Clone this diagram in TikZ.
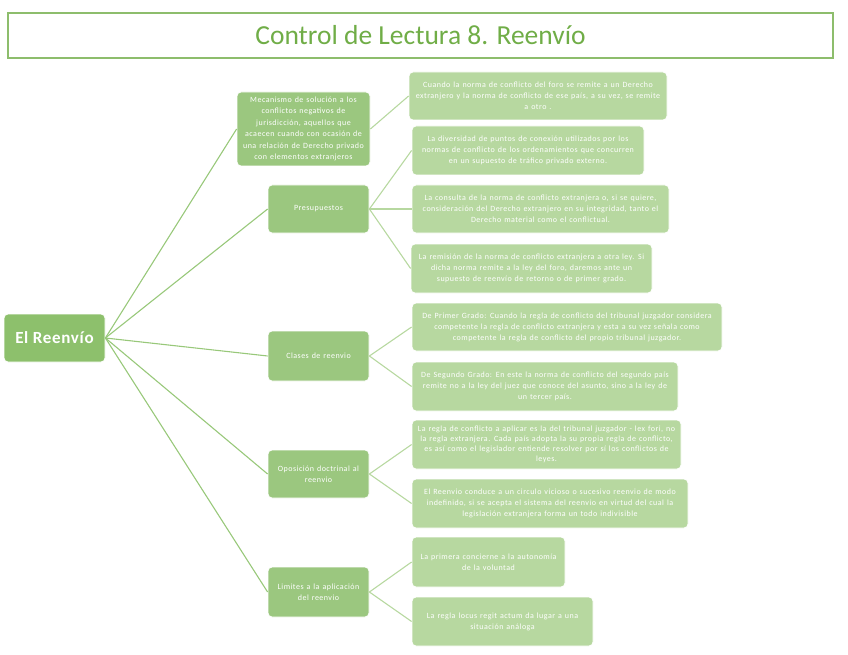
\documentclass[tikz,border=0pt]{standalone}
\usepackage{fontspec}
\setmainfont{Carlito}
\newfontfamily\boxfont[LetterSpace=6,WordSpace=1.3]{Carlito}
\newfontfamily\rootfont[LetterSpace=4]{Carlito}
\definecolor{rootg}{HTML}{8DC06C}
\definecolor{lvone}{HTML}{9BC77F}
\definecolor{lvtwo}{HTML}{B7D8A0}
\definecolor{edgeone}{HTML}{98C87A}
\definecolor{edgetwo}{HTML}{B7D8A0}
\definecolor{titleg}{HTML}{70AD47}
\tikzset{
  base/.style={draw=white, line width=0.8pt, rounded corners=4pt, inner sep=0pt, text=white, align=center},
  rootbox/.style={base, fill=rootg, font=\rootfont\fontsize{17}{20}\selectfont\bfseries},
  onebox/.style={base, fill=lvone, font=\boxfont\fontsize{8}{11.4}\selectfont},
  twobox/.style={base, fill=lvtwo, font=\boxfont\fontsize{8}{11}\selectfont},
  linkone/.style={draw=edgeone, line width=1.1pt},
  linktwo/.style={draw=edgetwo, line width=1.1pt},
}
\begin{document}
\begin{tikzpicture}[x=1pt,y=-1pt]
\useasboundingbox (0,0) rectangle (848,655);
\node[draw=titleg!80, line width=1.3pt, minimum width=825pt, minimum height=45pt, inner sep=0pt, text=titleg, font=\fontsize{27.5}{30}\selectfont] (title) at (420.5,35.5) {Control de Lectura 8. Reenvío};

\node[rootbox, minimum width=101pt, minimum height=48pt] (root) at (54.5,338) {El Reenvío};

\node[onebox, minimum width=133pt, minimum height=74pt] (m) at (303.5,129) {Mecanismo de solución a los\\ conflictos negativos de\\ jurisdicción, aquellos que\\ acaecen cuando con ocasión de\\ una relación de Derecho privado\\ con elementos extranjeros};
\node[onebox, minimum width=101pt, minimum height=48pt] (p) at (318.5,209) {Presupuestos};
\node[onebox, minimum width=101pt, minimum height=50pt] (c) at (318.5,356) {Clases de reenvio};
\node[onebox, minimum width=101pt, minimum height=48pt] (o) at (318.5,474) {Oposición doctrinal al\\ reenvio};
\node[onebox, minimum width=101pt, minimum height=50pt] (l) at (318.5,592) {Limites a la aplicación\\ del reenvio};

\node[twobox, minimum width=258pt, minimum height=48pt] (ma) at (538,96) {Cuando la norma de conflicto del foro se remite a un Derecho\\ extranjero y la norma de conflicto de ese país, a su vez, se remite\\ a otro .};
\node[twobox, minimum width=232pt, minimum height=49pt] (pa) at (528,150.5) {La diversidad de puntos de conexión utilizados por los\\ normas de conflicto de los ordenamientos que concurren\\ en un supuesto de tráfico privado externo.};
\node[twobox, minimum width=257pt, minimum height=48pt] (pb) at (540.5,209) {La consulta de la norma de conflicto extranjera o, si se quiere,\\ consideración del Derecho extranjero en su integridad, tanto el\\ Derecho material como el conflictual.};
\node[twobox, minimum width=241pt, minimum height=49pt] (pc) at (531.5,268.5) {La remisión de la norma de conflicto extranjera a otra ley. Si\\ dicha norma remite a la ley del foro, daremos ante un\\ supuesto de reenvío de retorno o de primer grado.};
\node[twobox, minimum width=310pt, minimum height=48pt] (ca) at (567,327) {De Primer Grado: Cuando la regla de conflicto del tribunal juzgador considera\\ competente la regla de conflicto extranjera y esta a su vez señala como\\ competente la regla de conflicto del propio tribunal juzgador.};
\node[twobox, minimum width=266pt, minimum height=49pt] (cb) at (545,386.5) {De Segundo Grado: En este la norma de conflicto del segundo país\\ remite no a la ley del juez que conoce del asunto, sino a la ley de\\ un tercer país.};
\node[twobox, minimum width=269pt, minimum height=49pt, font=\boxfont\fontsize{8}{9.8}\selectfont] (oa) at (546.5,444.5) {La regla de conflicto a aplicar es la del tribunal juzgador - lex fori, no\\ la regla extranjera. Cada país adopta la su propia regla de conflicto,\\ es así como el legislador entiende resolver por sí los conflictos de\\ leyes.};
\node[twobox, minimum width=276pt, minimum height=49pt] (ob) at (550,503.5) {El Reenvio conduce a un circulo vicioso o sucesivo reenvio de modo\\ indefinido, si se acepta el sistema del reenvio en virtud del cual la\\ legislación extranjera forma un todo indivisible};
\node[twobox, minimum width=153pt, minimum height=50pt] (la) at (488.5,562) {La primera concierne a la autonomía\\ de la voluntad};
\node[twobox, minimum width=181pt, minimum height=49pt] (lb) at (502.5,621.5) {La regla locus regit actum da lugar a una\\ situación análoga};

\foreach \t in {m,p,c,o,l} \draw[linkone] (root.east) -- (\t.west);
\draw[linktwo] (m.east) -- (ma.west);
\foreach \t in {pa,pb,pc} \draw[linktwo] (p.east) -- (\t.west);
\foreach \t in {ca,cb} \draw[linktwo] (c.east) -- (\t.west);
\foreach \t in {oa,ob} \draw[linktwo] (o.east) -- (\t.west);
\foreach \t in {la,lb} \draw[linktwo] (l.east) -- (\t.west);
\end{tikzpicture}
\end{document}
